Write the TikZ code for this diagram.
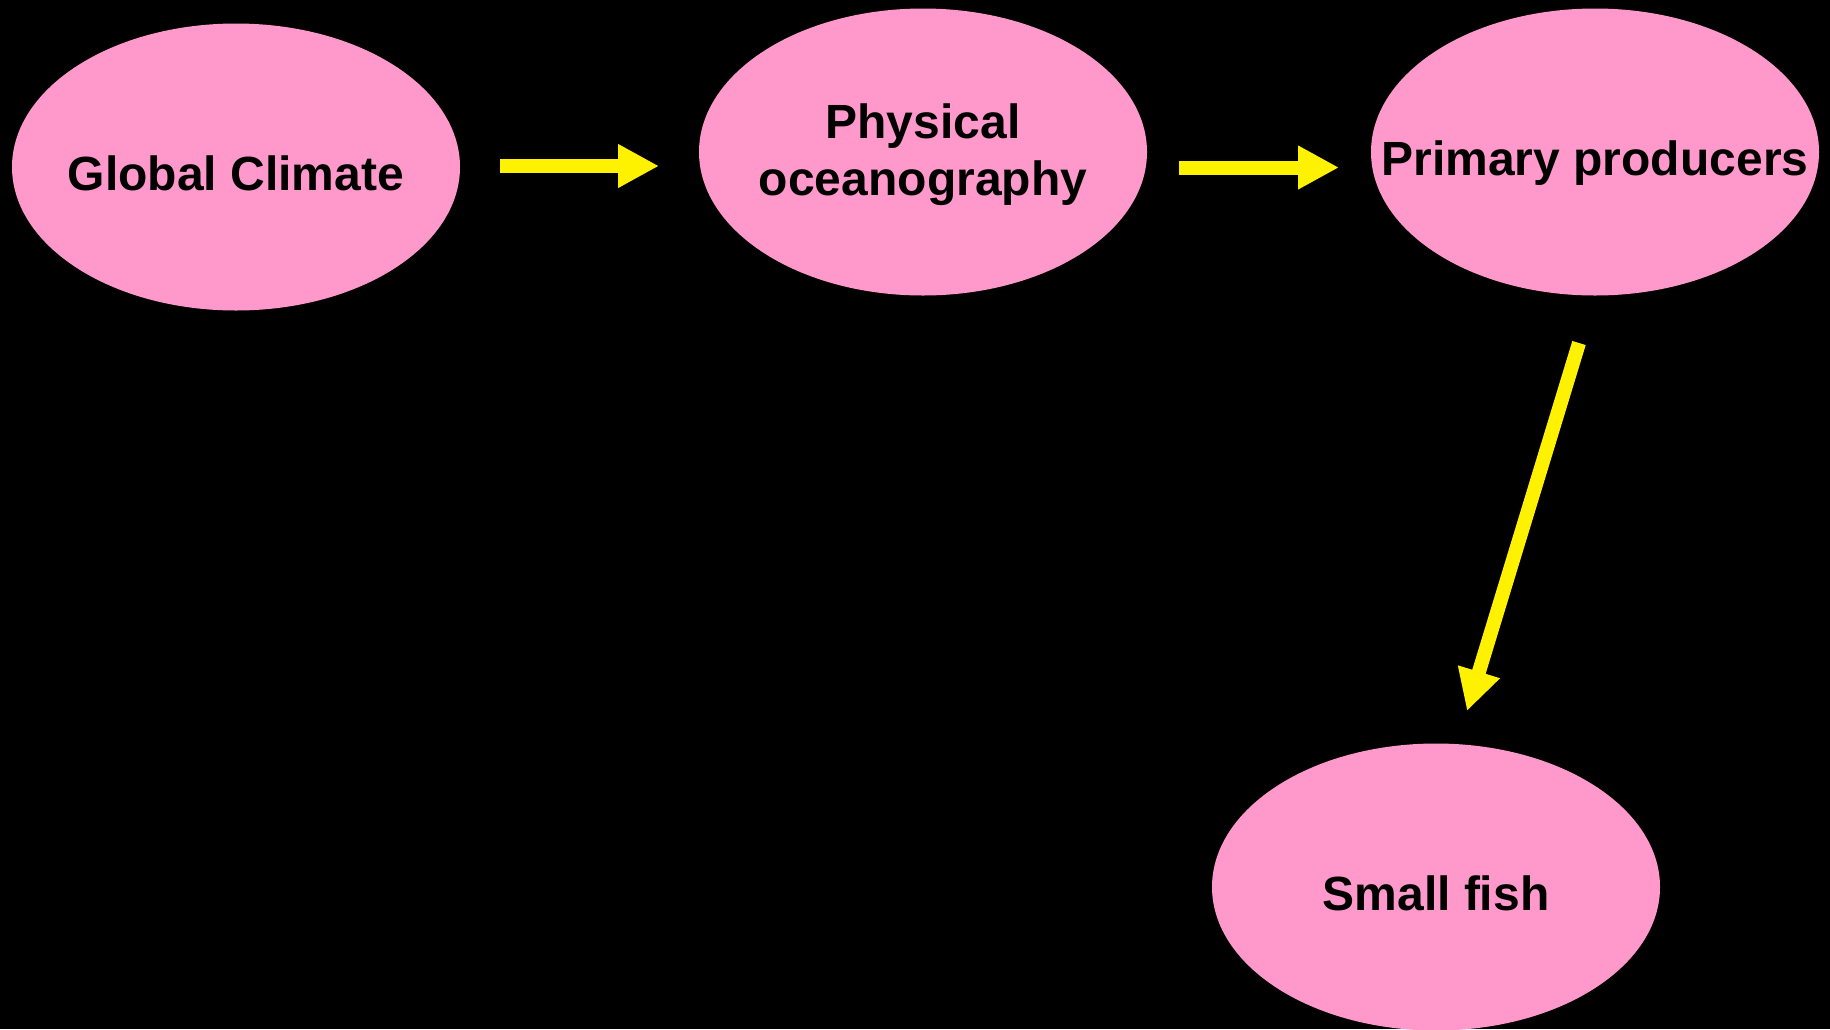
\documentclass[tikz,border=0pt]{standalone}
\usepackage{fontspec}
\setmainfont{Liberation Sans}
\usetikzlibrary{shapes.geometric,arrows.meta}
\definecolor{blobpink}{HTML}{FF99CC}
\tikzset{
  blob/.style={ellipse, fill=blobpink, minimum width=224pt, minimum height=143.5pt,
    inner sep=-60pt, align=center, font=\fontsize{24}{28.5}\selectfont\bfseries,
    text height=23pt, text depth=0pt},
  flow/.style={yellow, line width=7pt, -{Triangle[length=20.5pt,width=20.5pt]}}
}
\begin{document}
\begin{tikzpicture}[x=0.5pt,y=-0.5pt]
% background
\fill[black] (0,0) rectangle (1830,1029);
\useasboundingbox (0,0) rectangle (1830,1029);

% boxes
\node[blob] (climate) at (236,167) {Global Climate};
\node[blob, text height=43pt] (ocean) at (923,152) {Physical\\oceanography};
\node[blob] (producers) at (1595,152) {Primary producers};
\node[blob] (fish) at (1436,887) {Small fish};

% arrow ends
\coordinate (c1s) at (500,166);
\coordinate (c1e) at (659,166);
\coordinate (c2s) at (1179,167.5);
\coordinate (c2e) at (1339,167.5);
\coordinate (c3s) at (1579,343);
\coordinate (c3e) at (1467,711);

% arrows
\draw[flow] (c1s) -- (c1e);
\draw[flow] (c2s) -- (c2e);
\draw[flow] (c3s) -- (c3e);

\end{tikzpicture}
\end{document}
